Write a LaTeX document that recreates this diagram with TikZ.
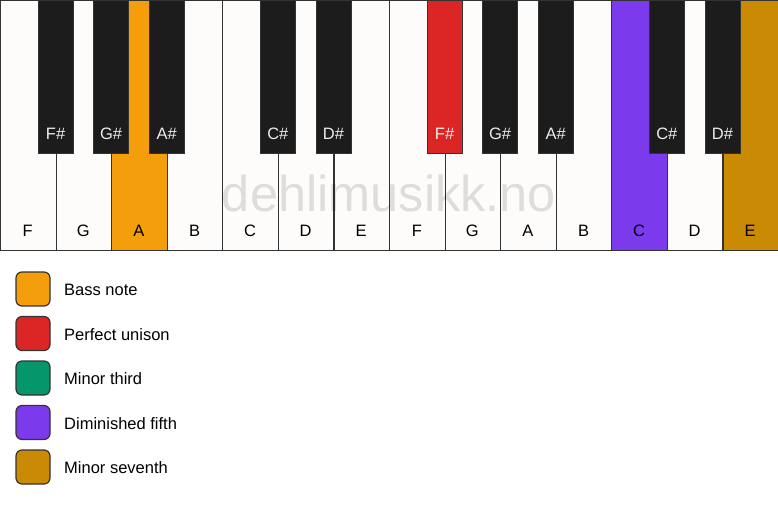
\documentclass[tikz,border=0pt]{standalone}
\usepackage{fontspec}
\setmainfont{Liberation Sans}
\definecolor{keywhite}{HTML}{FDFCFA}
\definecolor{keyblack}{HTML}{1C1C1C}
\definecolor{keyborder}{HTML}{333333}
\definecolor{cbass}{HTML}{F59E0B}
\definecolor{cunison}{HTML}{DC2626}
\definecolor{cthird}{HTML}{059669}
\definecolor{cfifth}{HTML}{7C3AED}
\definecolor{cseventh}{HTML}{CA8A04}
\tikzset{
  x=1pt, y=-1pt,
  whitekey/.style={draw=keyborder, line width=1.2pt, fill=keywhite},
  blackkey/.style={draw=keyborder, line width=0.8pt, fill=keyblack},
  wlabel/.style={font=\fontsize{16.5}{18}\selectfont, text=black, inner sep=0pt},
  blabel/.style={font=\fontsize{16.5}{18}\selectfont, text=white!93!black, inner sep=0pt},
  legbox/.style={draw=keyborder, line width=1.2pt, rounded corners=6pt, minimum width=34pt, minimum height=34pt, inner sep=0pt},
  legtext/.style={font=\fontsize{16.5}{18}\selectfont, anchor=west, inner sep=0pt},
}
\begin{document}
\begin{tikzpicture}
\useasboundingbox (0,0) rectangle (778,506);
\fill[white] (0,0) rectangle (778,506);
\def\w{55.5714}
% white keys
\foreach \i/\n/\c/\t in {0/F/keywhite/black,1/G/keywhite/black,2/A/cbass/black,3/B/keywhite/black,4/C/keywhite/black,5/D/keywhite/black,6/E/keywhite/black,7/F/keywhite/black,8/G/keywhite/black,9/A/keywhite/black,10/B/keywhite/black,11/C/cfifth/black,12/D/keywhite/black,13/E/cseventh/black}{
  \node[whitekey, fill=\c, minimum width=\w pt, minimum height=250pt, inner sep=0pt, anchor=north west] (w\i) at (\i*\w,0) {};
  \node[wlabel, text=\t] (wl\i) at (\i*\w+\w/2,230.5) {\n};
}
% watermark
\node[font=\fontsize{50.5}{56}\selectfont, text=black, text opacity=0.12, inner sep=0pt] (wm) at (389,193) {dehlimusikk.no};
% black keys
\foreach \b/\n/\c in {1/F\#/keyblack,2/G\#/keyblack,3/A\#/keyblack,5/C\#/keyblack,6/D\#/keyblack,8/F\#/cunison,9/G\#/keyblack,10/A\#/keyblack,12/C\#/keyblack,13/D\#/keyblack}{
  \node[blackkey, fill=\c, minimum width=35pt, minimum height=153pt, inner sep=0pt, anchor=north] (b\b) at (\b*\w,0) {};
  \node[blabel] (bl\b) at (\b*\w,133.5) {\n};
}
% legend
\foreach \k/\c/\t in {0/cbass/Bass note,1/cunison/Perfect unison,2/cthird/Minor third,3/cfifth/Diminished fifth,4/cseventh/Minor seventh}{
  \node[legbox, fill=\c] (lb\k) at (33,289+\k*44.5) {};
  \node[legtext] (lt\k) at (64,290+\k*44.5) {\t};
}
\end{tikzpicture}
\end{document}
